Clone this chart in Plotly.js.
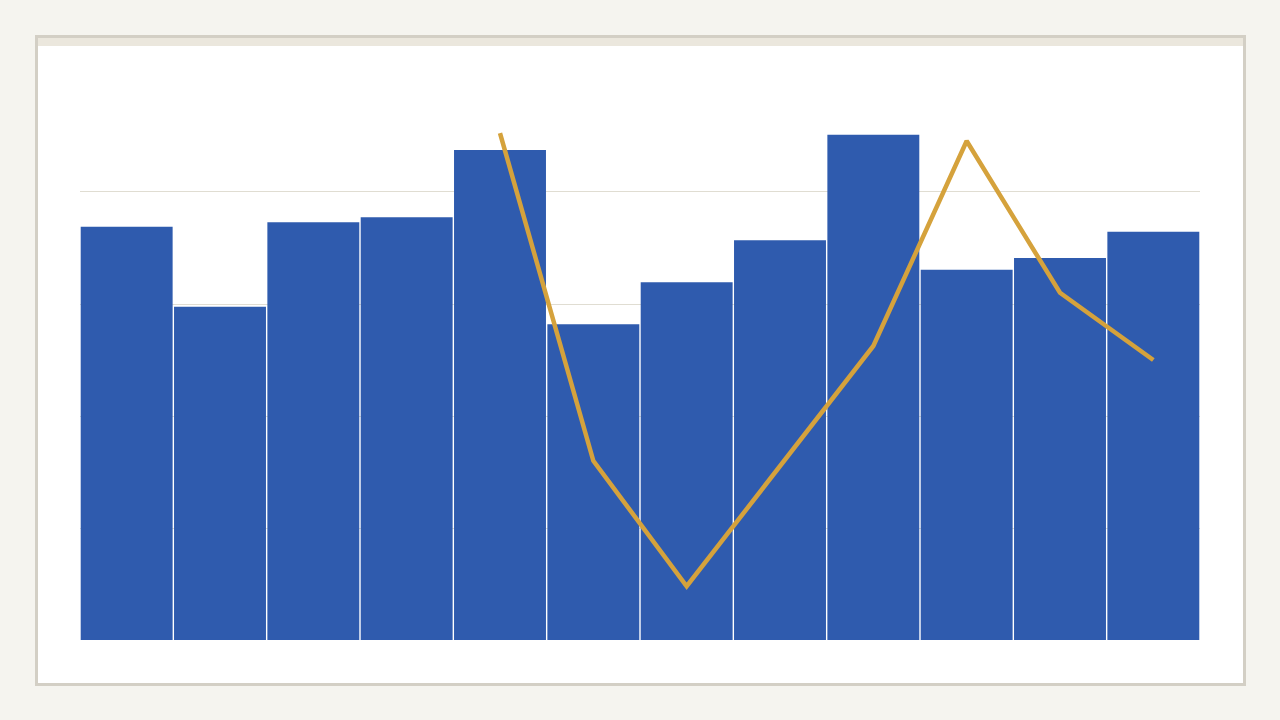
<!DOCTYPE html>
<html>
<head>
<meta charset="utf-8">
<script src="https://cdn.plot.ly/plotly-3.0.1.min.js"></script>
<style>
  html, body { margin: 0; padding: 0; background: #f5f4ef; width: 1280px; height: 720px; overflow: hidden; }
  #card { position: absolute; left: 35px; top: 35px; width: 1211px; height: 651px; box-sizing: border-box;
          border: 3px solid #d3cfc5; background: #ffffff; }
  #stripe { position: absolute; left: 0; top: 0; right: 0; height: 8px; background: #ebe7dd; }
  #chart { position: absolute; left: 0; top: 0; width: 1280px; height: 720px; }
</style>
</head>
<body>
<div id="card"><div id="stripe"></div></div>
<div id="chart"></div>
<script>
const categories = ["1", "2", "3", "4", "5", "6", "7", "8", "9", "10", "11", "12"];
const barValues = [73.8, 59.5, 74.6, 75.5, 87.5, 56.4, 63.9, 71.4, 90.2, 66.1, 68.2, 72.9];
const lineValues = [null, null, null, null, 90.5, 32.0, 9.6, 31.2, 52.5, 89.1, 62.0, 50.0];

const traces = [
  {
    type: "bar",
    x: categories,
    y: barValues,
    marker: { color: "#2f5bae", line: { width: 0 } },
    hoverinfo: "none"
  },
  {
    type: "scatter",
    mode: "lines",
    x: categories,
    y: lineValues,
    connectgaps: false,
    line: { color: "#d5a23c", width: 4.5 },
    hoverinfo: "none"
  }
];

const layout = {
  width: 1280,
  height: 720,
  margin: { l: 80, r: 80, t: 102, b: 80, pad: 0 },
  paper_bgcolor: "rgba(0,0,0,0)",
  plot_bgcolor: "rgba(0,0,0,0)",
  showlegend: false,
  bargap: 0.015,
  xaxis: {
    type: "category",
    showticklabels: false,
    showgrid: false,
    zeroline: false,
    showline: false,
    ticks: ""
  },
  yaxis: {
    range: [0, 96.07],
    dtick: 20,
    tick0: 0,
    showticklabels: false,
    showgrid: true,
    gridcolor: "#e0ddd2",
    gridwidth: 1,
    zeroline: false,
    showline: false,
    ticks: ""
  }
};

Plotly.newPlot("chart", traces, layout, { staticPlot: true, displayModeBar: false });
</script>
</body>
</html>
